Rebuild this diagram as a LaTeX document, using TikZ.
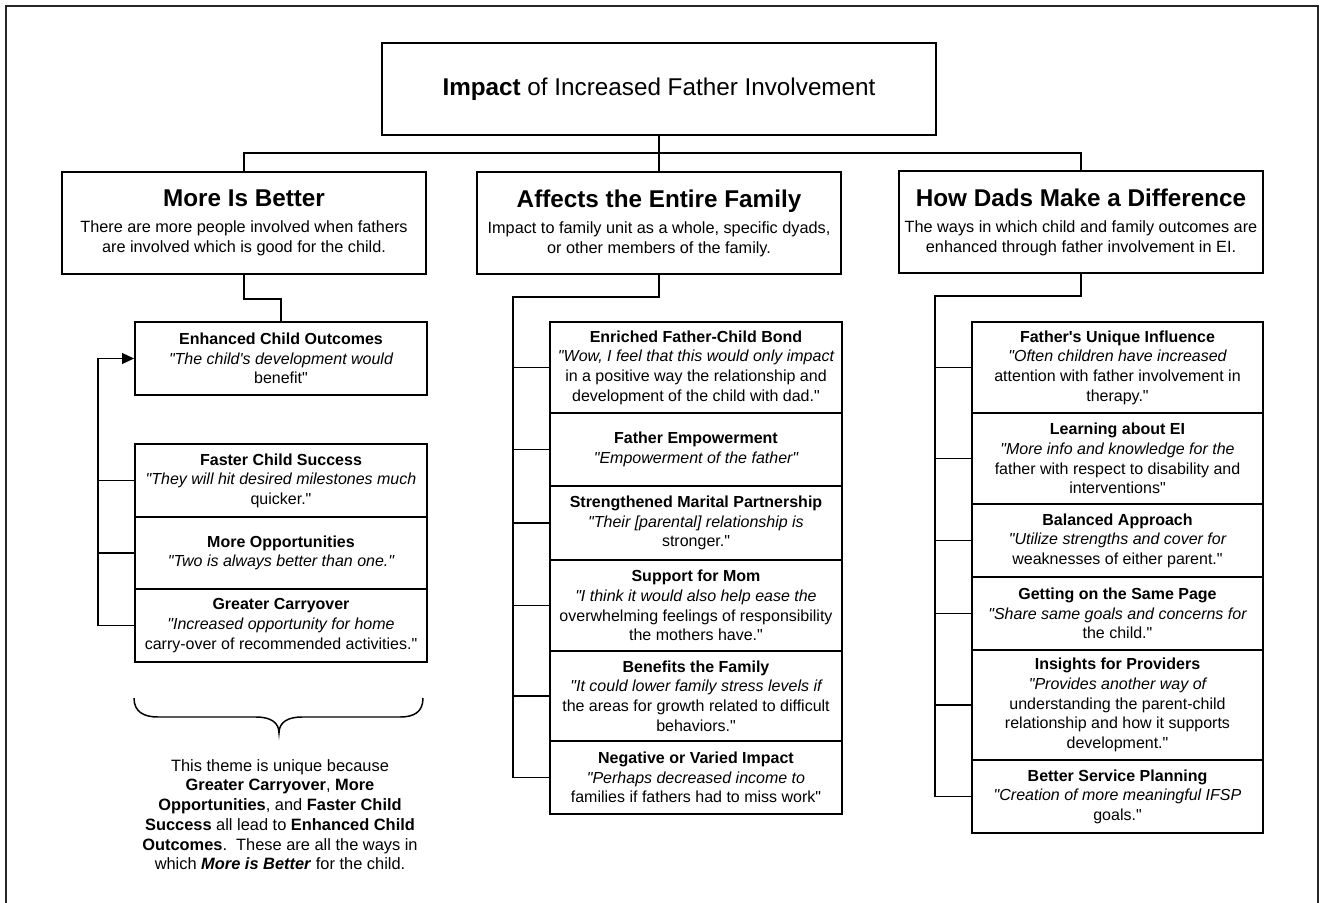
\documentclass[tikz,border=0pt]{standalone}
\usepackage{fontspec}
\setmainfont{Liberation Sans}[Ligatures=TeXOff]
\usetikzlibrary{arrows.meta}
\newcommand\bxfont{\fontsize{12}{14.7}\selectfont}
\newcommand\hdfont{\fontsize{18.2}{21}\selectfont}
\newcommand\colfont{\fontsize{12.2}{15}\selectfont}
\newcommand\ntfont{\fontsize{12.3}{14.8}\selectfont}
\begin{document}
\begin{tikzpicture}[x=0.75pt,y=-0.75pt, line join=miter,
  frame/.style={line width=0.9pt, draw=black!85},
  wire/.style={line width=1.3pt},
  topbox/.style={draw, line width=1.3pt, minimum width=415.5pt, minimum height=69pt, inner sep=0pt, font=\hdfont},
  col/.style={draw, line width=1.3pt, minimum width=273pt, minimum height=76.5pt, inner sep=0pt, align=center, font=\colfont},
  item/.style={draw, line width=1.3pt, inner sep=0pt, align=center, font=\bxfont},
  litem/.style={item, minimum width=219pt},
  mitem/.style={item, minimum width=219pt},
  ritem/.style={item, minimum width=218.25pt},
  note/.style={font=\ntfont, align=center, inner sep=0pt},
  tip/.style={-{Triangle[length=9pt,width=8pt]}}
]
\useasboundingbox (0,0) rectangle (1321,903);
\draw[frame] (6,903) -- (6,6) -- (1318,6) -- (1318,903);

% top
\node[topbox] (top) at (659,89) {\textbf{Impact} of Increased Father Involvement};

% columns
\node[col] (more) at (244,223) {{\hdfont\bfseries More Is Better}\\[4.5pt]There are more people involved when fathers\\are involved which is good for the child.};
\node[col] (fam) at (659,223) {{\hdfont\bfseries Affects the Entire Family}\\[4.5pt]Impact to family unit as a whole, specific dyads,\\or other members of the family.};
\node[col] (dads) at (1081,222) {{\hdfont\bfseries How Dads Make a Difference}\\[4.5pt]The ways in which child and family outcomes are\\enhanced through father involvement in EI.};

% left column items
\node[litem, minimum height=54.75pt] (enh) at (281,358.5) {\textbf{Enhanced Child Outcomes}\\\itshape "The child's development would\\benefit"};
\node[litem, minimum height=54.75pt] (fcs) at (281,480.5) {\textbf{Faster Child Success}\\\itshape "They will hit desired milestones much\\quicker."};
\node[litem, minimum height=54pt] (mop) at (281,553) {\textbf{More Opportunities}\\\itshape "Two is always better than one."};
\node[litem, minimum height=54.75pt] (grc) at (281,625.5) {\textbf{Greater Carryover}\\\itshape "Increased opportunity for home\\carry-over of recommended activities."};

% middle column items
\node[mitem, minimum height=68.25pt] (enr) at (696,367.5) {\textbf{Enriched Father-Child Bond}\\\itshape "Wow, I feel that this would only impact\\in a positive way the relationship and\\development of the child with dad."};
\node[mitem, minimum height=54.75pt] (fem) at (696,449.5) {\textbf{Father Empowerment}\\\itshape "Empowerment of the father"};
\node[mitem, minimum height=55.5pt] (smp) at (696,523) {\textbf{Strengthened Marital Partnership}\\\itshape "Their [parental] relationship is\\stronger."};
\node[mitem, minimum height=68.25pt] (sfm) at (696,605.5) {\textbf{Support for Mom}\\\itshape "I think it would also help ease the\\overwhelming feelings of responsibility\\the mothers have."};
\node[mitem, minimum height=67.5pt] (btf) at (696,696) {\textbf{Benefits the Family}\\\itshape "It could lower family stress levels if\\the areas for growth related to difficult\\behaviors."};
\node[mitem, minimum height=54.75pt] (nvi) at (696,777.5) {\textbf{Negative or Varied Impact}\\\itshape "Perhaps decreased income to\\families if fathers had to miss work"};

% right column items
\node[ritem, minimum height=68.25pt] (fui) at (1117.5,367.5) {\textbf{Father's Unique Influence}\\\itshape "Often children have increased\\attention with father involvement in\\therapy."};
\node[ritem, minimum height=68.25pt] (lei) at (1117.5,458.5) {\textbf{Learning about EI}\\\itshape "More info and knowledge for the\\father with respect to disability and\\interventions"};
\node[ritem, minimum height=54.75pt] (bap) at (1117.5,540.5) {\textbf{Balanced Approach}\\\itshape "Utilize strengths and cover for\\weaknesses of either parent."};
\node[ritem, minimum height=54.75pt] (gsp) at (1117.5,613.5) {\textbf{Getting on the Same Page}\\\itshape "Share same goals and concerns for\\the child."};
\node[ritem, minimum height=82.5pt] (ifp) at (1117.5,705) {\textbf{Insights for Providers}\\\itshape "Provides another way of\\understanding the parent-child\\relationship and how it supports\\development."};
\node[ritem, minimum height=54.75pt] (bsp) at (1117.5,796.5) {\textbf{Better Service Planning}\\\itshape "Creation of more meaningful IFSP\\goals."};

% top connectors
\coordinate (bus) at (659,153);
\draw[wire] (top.south) -- (bus);
\draw[wire] (more.north) |- (bus) -| (dads.north);
\draw[wire] (bus) -- (fam.north);

% left connectors
\draw[wire] (more.south) -- ++(0,24) -| (enh.north);
\coordinate (lb) at (98,358.5);
\draw[wire, tip] (grc.west) -| (lb) -- (enh.west);
\draw[wire] (fcs.west) -- (fcs.west -| lb);
\draw[wire] (mop.west) -- (mop.west -| lb);

% middle connectors
\coordinate (mb) at (513,297);
\draw[wire] (fam.south) |- (mb) |- (nvi.west);
\foreach \n in {enr,fem,smp,sfm,btf} \draw[wire] (\n.west) -- (\n.west -| mb);

% right connectors
\coordinate (rb) at (935,296);
\draw[wire] (dads.south) |- (rb) |- (bsp.west);
\foreach \n in {fui,lei,bap,gsp,ifp} \draw[wire] (\n.west) -- (\n.west -| rb);

% brace
\draw[line width=1.1pt] (134,698) .. controls (134,712) and (144,717) .. (158,717) -- (256,717) .. controls (270,717) and (279,722) .. (279,733) .. controls (279,722) and (288,717) .. (302,717) -- (400,717) .. controls (414,717) and (423,712) .. (423,698);

% note
\node[note, anchor=north] (txt) at (280,759) {This theme is unique because\\
\textbf{Greater Carryover}, \textbf{More}\\
\textbf{Opportunities}, and \textbf{Faster Child}\\
\textbf{Success} all lead to \textbf{Enhanced Child}\\
\textbf{Outcomes}.\ \ These are all the ways in\\
which \textbf{\textit{More is Better}} for the child.};
\end{tikzpicture}
\end{document}
